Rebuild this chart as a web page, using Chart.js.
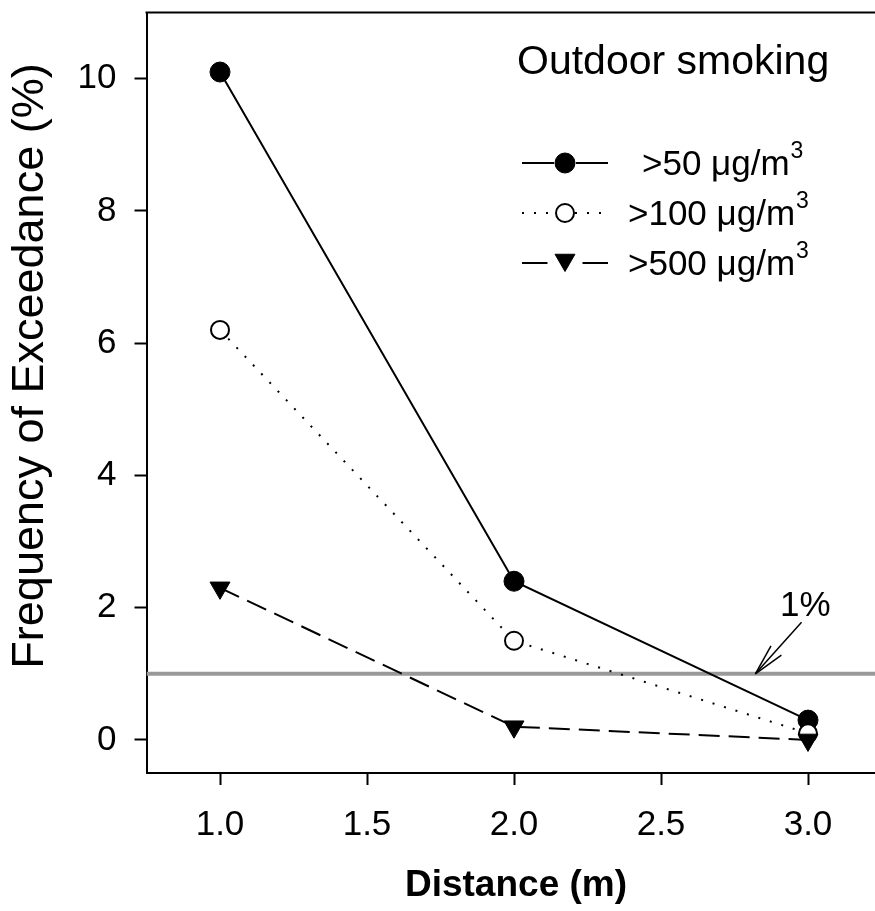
<!DOCTYPE html>
<html><head><meta charset="utf-8">
<script src="https://cdn.jsdelivr.net/npm/chart.js@4/dist/chart.umd.min.js"></script>
<style>
html,body{margin:0;padding:0;background:#fff;overflow:hidden;width:875px;height:911px}
#wrap{width:900px;height:911px;position:relative}
canvas{display:block}
</style>
</head><body><div id="wrap"><canvas id="c" width="900" height="911"></canvas></div>
<script>
// ---- data ----
const distances = [1.0, 2.0, 3.0];
const seriesLabels = ['>50 μg/m³', '>100 μg/m³', '>500 μg/m³'];
const exceed50 = [10.1, 2.4, 0.3];
const exceed100 = [6.2, 1.5, 0.1];
const exceed500 = [2.3, 0.2, 0.0];
const xTicks = [1.0, 1.5, 2.0, 2.5, 3.0];
const yTicks = [0, 2, 4, 6, 8, 10];
const xRange = [0.75, 3.25];
const yRange = [-0.5, 11];
const thresholdPct = 1;
const chartTitle = 'Outdoor smoking';
const xTitle = 'Distance (m)';
const yTitle = 'Frequency of Exceedance (%)';
const thresholdLabel = '1%';

const FONT = 'Arial, "Liberation Sans", Helvetica, sans-serif';
const pts = (ys) => distances.map((x, i) => ({x, y: ys[i]}));

const decor = {
  id: 'decor',
  afterDraw(chart) {
    const {ctx, chartArea: a, scales: {x, y}} = chart;
    ctx.save();
    // top border
    ctx.strokeStyle = '#000'; ctx.lineWidth = 2; ctx.setLineDash([]);
    ctx.beginPath(); ctx.moveTo(a.left - 1, a.top); ctx.lineTo(a.right + 1, a.top); ctx.stroke();
    // title
    ctx.fillStyle = '#000';
    ctx.font = '41px ' + FONT; ctx.textAlign = 'left'; ctx.textBaseline = 'alphabetic';
    ctx.fillText(chartTitle, 517, 74);
    // axis titles
    ctx.font = 'bold 37px ' + FONT; ctx.textAlign = 'center';
    ctx.fillText(xTitle, 516, 896);
    ctx.save();
    ctx.translate(43, 366); ctx.rotate(-Math.PI / 2);
    ctx.font = '45px ' + FONT; ctx.textAlign = 'center';
    ctx.fillText(yTitle, 0, 0);
    ctx.restore();
    // threshold annotation
    const tip = {x: x.getPixelForValue(2.821), y: y.getPixelForValue(thresholdPct)};
    const tail = {x: x.getPixelForValue(2.978), y: y.getPixelForValue(1.78)};
    ctx.font = '35px ' + FONT; ctx.textAlign = 'left';
    ctx.fillText(thresholdLabel, x.getPixelForValue(2.905), y.getPixelForValue(1.88));
    ctx.lineWidth = 1.5;
    ctx.beginPath(); ctx.moveTo(tail.x, tail.y); ctx.lineTo(tip.x, tip.y); ctx.stroke();
    const ang = Math.atan2(tail.y - tip.y, tail.x - tip.x);
    [-0.22, 0.22].forEach(d => {
      ctx.beginPath(); ctx.moveTo(tip.x, tip.y);
      ctx.lineTo(tip.x + 32 * Math.cos(ang + d), tip.y + 32 * Math.sin(ang + d));
      ctx.stroke();
    });
    // legend
    const rows = [163, 213, 263];
    const textX = [642, 628, 628];
    chart.data.datasets.slice(0, 3).forEach((ds, i) => {
      const yy = rows[i], cx = 565;
      const r = ds.pointRadius;
      const dash = ds.borderDash || [];
      const longDash = dash.length && dash[0] > 10;
      ctx.strokeStyle = '#000'; ctx.lineWidth = ds.borderWidth;
      ctx.setLineDash(longDash ? [] : dash);
      const g = longDash ? 6 : 1;
      ctx.beginPath(); ctx.moveTo(522, yy); ctx.lineTo(cx - r - g, yy); ctx.stroke();
      ctx.beginPath(); ctx.moveTo(cx + r + g, yy); ctx.lineTo(608, yy); ctx.stroke();
      ctx.setLineDash([]);
      ctx.fillStyle = ds.pointBackgroundColor; ctx.strokeStyle = ds.pointBorderColor;
      ctx.lineWidth = ds.pointBorderWidth;
      Chart.helpers.drawPoint(ctx, {pointStyle: ds.pointStyle, radius: r, rotation: ds.pointRotation || 0, borderWidth: ds.pointBorderWidth}, cx, ds.pointStyle === 'triangle' ? yy - 3 : yy);
      // label with superscript
      const lab = seriesLabels[i];
      const base = lab.replace('³', '');
      ctx.fillStyle = '#000';
      ctx.font = '35px ' + FONT; ctx.textAlign = 'left'; ctx.textBaseline = 'alphabetic';
      ctx.fillText(base, textX[i], yy + 12);
      const w = ctx.measureText(base).width;
      ctx.font = '23px ' + FONT;
      ctx.fillText('3', textX[i] + w + 1, yy - 5);
    });
    ctx.restore();
  }
};

new Chart(document.getElementById('c'), {
  type: 'line',
  data: {
    datasets: [
      {label: seriesLabels[0], data: pts(exceed50), borderColor: '#000', borderWidth: 2,
       pointStyle: 'circle', pointRadius: 10, pointBackgroundColor: '#000', pointBorderColor: '#000', pointBorderWidth: 1, order: 2},
      {label: seriesLabels[1], data: pts(exceed100), borderColor: '#000', borderWidth: 2, borderDash: [2, 10],
       pointStyle: 'circle', pointRadius: 9, pointBackgroundColor: '#fff', pointBorderColor: '#000', pointBorderWidth: 2, order: 1},
      {label: seriesLabels[2], data: pts(exceed500), borderColor: '#000', borderWidth: 2, borderDash: [21, 9],
       pointStyle: 'triangle', pointRotation: 180, pointRadius: 11.5, pointBackgroundColor: '#000', pointBorderColor: '#000', pointBorderWidth: 1, order: 0},
      {label: 'threshold', data: [{x: xRange[0], y: thresholdPct}, {x: xRange[1], y: thresholdPct}],
       borderColor: '#999999', borderWidth: 4, pointRadius: 0, order: 5}
    ]
  },
  options: {
    responsive: false, animation: false, devicePixelRatio: 1,
    layout: {padding: {top: 12, right: 18.5, left: 0, bottom: 0}},
    plugins: {legend: {display: false}, tooltip: {enabled: false}},
    elements: {line: {tension: 0}},
    scales: {
      x: {
        type: 'linear', min: xRange[0], max: xRange[1],
        afterBuildTicks: s => { s.ticks = xTicks.map(v => ({value: v})); },
        afterFit: s => { s.height = 138; s.paddingLeft = 0; s.paddingRight = 0; },
        ticks: {color: '#000', font: {size: 35, family: FONT}, padding: 19,
          callback: v => Number(v).toFixed(1), maxRotation: 0, autoSkip: false},
        grid: {display: true, drawOnChartArea: false, drawTicks: true, tickLength: 12, tickColor: '#000', tickWidth: 2},
        border: {display: true, color: '#000', width: 2}
      },
      y: {
        type: 'linear', min: yRange[0], max: yRange[1],
        afterBuildTicks: s => { s.ticks = yTicks.map(v => ({value: v})); },
        afterFit: s => { s.width = 146.5; s.paddingTop = 0; s.paddingBottom = 0; },
        ticks: {color: '#000', font: {size: 35, family: FONT}, padding: 18, autoSkip: false},
        grid: {display: true, drawOnChartArea: false, drawTicks: true, tickLength: 12, tickColor: '#000', tickWidth: 2},
        border: {display: true, color: '#000', width: 2}
      }
    }
  },
  plugins: [decor]
});
</script>
</body></html>
